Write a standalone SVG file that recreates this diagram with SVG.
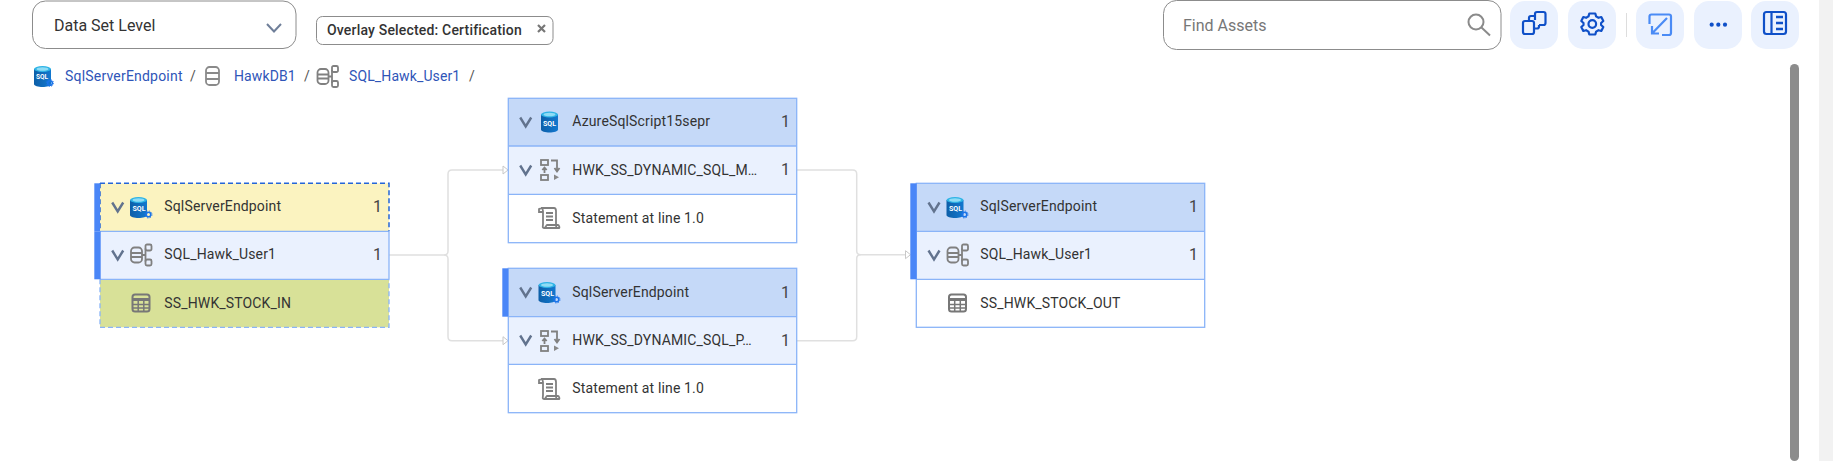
<svg xmlns="http://www.w3.org/2000/svg" xmlns:xlink="http://www.w3.org/1999/xlink" width="1833" height="461" viewBox="0 0 1833 461">
<style>
text{font-family:Roboto,"Liberation Sans",sans-serif;fill:#333}
.t{font-size:14px;letter-spacing:.15px}
.c{font-size:16px;fill:#444}
.l{font-size:14px;fill:#2f55b8;letter-spacing:.12px}
.s{font-size:14px;fill:#555}
.hd{fill:#c5d9f8}.sub{fill:#eaf1fe}.wh{fill:#fff}
.bd{fill:none;stroke:#8ab4f8;stroke-width:1.3}
.bar{fill:#4a86f7}
.con{fill:none;stroke:#e0e0e0;stroke-width:1.5}
.arr{fill:#fff;stroke:#c8c8c8;stroke-width:1}
.chev{fill:none;stroke:#62738e;stroke-width:2.4}
.ic{fill:none;stroke:#808080;stroke-width:1.8}
.btn{fill:#eaf1fe}
.bi{fill:none;stroke:#0f50c8;stroke-width:2.2;stroke-linejoin:round}
.sq{font-size:7px;font-weight:700;fill:#fff;letter-spacing:0}
</style>
<defs>
<path id="chevron" class="chev" d="M-5.500 -4.500 L0 4.500 L5.500 -4.500"/>
<linearGradient id="cyl" x1="0" x2="1" y1="0" y2="0"><stop offset="0" stop-color="#0d5fa8"/><stop offset="1" stop-color="#1278cf"/></linearGradient>
<g id="cylinder">
<path d="M0 3 V18 C0 22 17 22 17 18 V3 Z" fill="url(#cyl)"/>
<ellipse cx="8.500" cy="3" rx="8.500" ry="3" fill="#2fb4e6"/>
<ellipse cx="8.500" cy="3" rx="6" ry="1.700" fill="#8fdcf5"/>
</g>
<g id="gear"><circle r="2.300" fill="none" stroke="#1a73e8" stroke-width="1.600"/><circle r="3.500" fill="none" stroke="#1a73e8" stroke-width=".9" stroke-dasharray="1.300 1.450"/></g>
<g id="schema" class="ic">
<rect x="0.500" y="4" width="11" height="15" rx="3.500"/>
<path d="M0.500 9.500 H11.500 M0.500 13.500 H11.500"/>
<path d="M11.500 11.500 H15 M15 5 V18"/>
<rect x="15" y="1" width="6" height="6" rx="1.500"/>
<rect x="15" y="16" width="6" height="6" rx="1.500"/>
</g>
<g id="table">
<rect x="1" y="1" width="17" height="17" rx="2.500" fill="none" stroke="#777" stroke-width="2"/>
<path d="M1 6 H18" stroke="#777" stroke-width="3"/>
<path d="M1 11 H18 M1 14.500 H18 M6.700 6 V18 M12.300 6 V18" stroke="#777" stroke-width="1.500"/>
</g>
<g id="flow">
<rect x="1" y="1" width="7" height="5" class="ic"/>
<rect x="1" y="16" width="7" height="5" class="ic"/>
<path d="M4.500 14 V9 M2.300 11 L4.500 8.500 L6.700 11" class="ic" stroke-width="1.500"/>
<path d="M11 1.500 H17 V11 M14.500 9 L17 12.500 L19.500 9" class="ic"/>
<path d="M14 15.500 V21 L19 18.200 Z" fill="#888"/>
</g>
<g id="scroll" class="ic">
<path d="M3 1 H16 C18 1 18 3 18 4 V18 C18 21 19 21 21 21 H6 C4 21 5 19 5 17 V4 C5 1 3 1 1 2 V5 H5"/>
<path d="M21 21 C22 21 21 18 20 18 H9 C8 18 8 21 6 21"/>
<path d="M8 6 H15 M8 9.500 H15 M8 13 H15"/>
</g>
</defs>
<rect width="1833" height="461" fill="#fff"/>
<rect x="1819" y="0" width="14" height="461" fill="#f2f2f2"/>
<rect x="1790" y="64" width="9" height="397" rx="4.500" fill="#8c8c8c"/>

<g id="toolbar">
<rect x="32.500" y="1" width="263.500" height="47.500" rx="13" fill="#fff" stroke="#8c8c8c" stroke-width="1"/>
<text x="54" y="31" style="font-size:16px" fill="#333">Data Set Level</text>
<path d="M267 24 L274 31.500 L281 24" fill="none" stroke="#6f7f99" stroke-width="2"/>
<rect x="316.500" y="16.500" width="236.500" height="28" rx="6" fill="#fff" stroke="#8c8c8c" stroke-width="1"/>
<text x="327" y="34.500" style="font-size:14px;font-weight:500;letter-spacing:.18px">Overlay Selected: Certification</text>
<path d="M538 25 L545 32 M545 25 L538 32" stroke="#777" stroke-width="2.200"/>
<rect x="1163.500" y="0.500" width="337.500" height="49" rx="13" fill="#fff" stroke="#8c8c8c" stroke-width="1"/>
<text x="1183" y="30.500" style="font-size:16px;fill:#777">Find Assets</text>
<circle cx="1476" cy="22" r="7.500" fill="none" stroke="#8a8a8a" stroke-width="2"/>
<path d="M1481.500 27.500 L1490 35.500" stroke="#8a8a8a" stroke-width="2"/>
<rect class="btn" x="1510" y="1" width="48" height="48" rx="15"/>
<rect class="btn" x="1568" y="1" width="48" height="48" rx="15"/>
<rect class="btn" x="1636" y="1" width="48" height="48" rx="15"/>
<rect class="btn" x="1694" y="1" width="48" height="48" rx="15"/>
<rect class="btn" x="1751" y="1" width="48" height="48" rx="15"/>
<path d="M1626.500 13 V37" stroke="#ddd" stroke-width="1"/>
<g class="bi">
<rect x="1523" y="21" width="11" height="13" rx="2"/>
<path d="M1529 20.500 V18 Q1529 16 1531 16 H1535"/>
<path d="M1534 28.500 H1537 Q1539 28.500 1539 26.500 V25"/>
<path d="M1535 20 V14 Q1535 12 1537 12 H1543.500 Q1545.500 12 1545.500 14 V23 Q1545.500 25 1543.500 25 H1539"/>
</g>
<g class="bi" transform="translate(1592.300 24)">
<circle r="3.800"/>
<path d="M-3 -10.500 H3 L3.800 -7.600 L6.200 -6.200 L9 -7 L11 -3 L8.800 -1 V1 L11 3 L9 7 L6.200 6.200 L3.800 7.600 L3 10.500 H-3 L-3.800 7.600 L-6.200 6.200 L-9 7 L-11 3 L-8.800 1 V-1 L-11 -3 L-9 -7 L-6.200 -6.200 L-3.800 -7.600 Z"/>
</g>
<g fill="none" stroke="#4a8bf5" stroke-width="2.200">
<path d="M1649.500 24 V16.500 Q1649.500 14.500 1651.500 14.500 H1669 Q1671 14.500 1671 16.500 V33 Q1671 35 1669 35 H1662"/>
<path d="M1667 18 L1652 33.500 M1652 26 V33.500 H1659"/>
</g>
<circle cx="1711.700" cy="24.700" r="2.100" fill="#0f50c8"/>
<circle cx="1718.300" cy="24.700" r="2.100" fill="#0f50c8"/>
<circle cx="1725" cy="24.700" r="2.100" fill="#0f50c8"/>
<g class="bi">
<rect x="1764" y="12" width="22" height="22" rx="2.500"/>
<path d="M1771.500 12 V34"/>
<path d="M1776 17 H1783 M1776 23 H1783 M1776 29 H1783" stroke-width="2.600"/>
</g>
</g>

<g id="breadcrumb">
<use href="#cylinder" x="34" y="66"/>
<text class="sq" x="36" y="79" style="font-size:6.500px">SQL</text>
<use href="#gear" x="50" y="83"/>
<text class="l" x="65" y="81" style="letter-spacing:.2px">SqlServerEndpoint</text>
<text class="s" x="190" y="81">/</text>
<g fill="none" stroke="#8a8a8a" stroke-width="1.800">
<rect x="206" y="67" width="13" height="18" rx="3.500"/>
<path d="M206 73 H219 M206 79 H219"/>
</g>
<text class="l" x="234" y="81">HawkDB1</text>
<text class="s" x="304" y="81">/</text>
<use href="#schema" x="317" y="65"/>
<text class="l" x="349" y="81">SQL_Hawk_User1</text>
<text class="s" x="469" y="81">/</text>
</g>

<g id="connectors">
<path class="con" d="M389 255 H444 Q448 255 448 251 V174 Q448 170 452 170 H503"/>
<path class="con" d="M444 255 Q448 255 448 259 V336.700 Q448 340.700 452 340.700 H503"/>
<path class="con" d="M797 170 H852.700 Q856.700 170 856.700 174 V250.700 Q856.700 254.700 860.700 254.700 H905"/>
<path class="con" d="M797 340.700 H852.700 Q856.700 340.700 856.700 336.700 V258.700 Q856.700 254.700 860.700 254.700"/>
<path class="arr" d="M503 166 L508 170 L503 174 Z"/>
<path class="arr" d="M503 336.700 L508 340.700 L503 344.700 Z"/>
<path class="arr" d="M905.500 250.700 L910.500 254.700 L905.500 258.700 Z"/>
</g>

<g id="node-source">
<rect x="100" y="183.300" width="289" height="48" fill="#fbf3c0"/>
<rect class="sub" x="100" y="231.300" width="289" height="48"/>
<rect x="100" y="279.300" width="289" height="48" fill="#d8e198"/>
<path d="M100 231.300 H389 M100 279.300 H389" class="bd"/>
<path d="M100 279.300 V327.300 H389 V279.300" fill="none" stroke="#8ab4f8" stroke-width="1.300" stroke-dasharray="5 3"/>
<path d="M100 183.300 H389 V231.300 M100 183.300 V231.300" fill="none" stroke="#2465d8" stroke-width="1.500" stroke-dasharray="5 3"/>
<path d="M389 231.300 V279.300" class="bd"/>
<rect class="bar" x="94.300" y="183.300" width="5.700" height="48"/>
<rect class="bar" x="94.300" y="231.300" width="6.400" height="48"/>
<use href="#chevron" x="117.700" y="207"/>
<use href="#cylinder" x="130" y="197"/>
<text class="sq" x="132.500" y="210.500">SQL</text>
<use href="#gear" x="148.500" y="214.500"/>
<text class="t" x="164.300" y="211">SqlServerEndpoint</text>
<text class="c" x="373" y="212">1</text>
<use href="#chevron" x="117.700" y="255"/>
<use href="#schema" x="130.500" y="243.500"/>
<text class="t" x="164.300" y="259">SQL_Hawk_User1</text>
<text class="c" x="373" y="260">1</text>
<use href="#table" x="131.500" y="293.500"/>
<text class="t" x="164.300" y="308">SS_HWK_STOCK_IN</text>
</g>

<g id="node-azure-script">
<rect class="hd" x="508.300" y="98.300" width="288.400" height="47.700"/>
<rect class="sub" x="508.300" y="146" width="288.400" height="48.300"/>
<rect class="wh" x="508.300" y="194.300" width="288.400" height="48.400"/>
<rect class="bd" x="508.300" y="98.300" width="288.400" height="144.400"/>
<path class="bd" d="M508.300 146 H796.700 M508.300 194.300 H796.700"/>
<use href="#chevron" x="525.700" y="122"/>
<use href="#cylinder" x="541" y="111.500"/>
<text class="sq" x="543" y="125.500">SQL</text>
<text class="t" x="572.300" y="126">AzureSqlScript15sepr</text>
<text class="c" x="781" y="127">1</text>
<use href="#chevron" x="525.700" y="170"/>
<use href="#flow" x="540" y="159"/>
<text class="t" x="572.300" y="175">HWK_SS_DYNAMIC_SQL_M…</text>
<text class="c" x="781" y="175">1</text>
<use href="#scroll" x="538" y="207"/>
<text class="t" x="572.300" y="223">Statement at line 1.0</text>
</g>

<g id="node-endpoint-mid">
<rect class="hd" x="508.300" y="268.300" width="288.400" height="48.400"/>
<rect class="sub" x="508.300" y="316.700" width="288.400" height="47.600"/>
<rect class="wh" x="508.300" y="364.300" width="288.400" height="48.400"/>
<rect class="bd" x="508.300" y="268.300" width="288.400" height="144.400"/>
<path class="bd" d="M508.300 316.700 H796.700 M508.300 364.300 H796.700"/>
<rect class="bar" x="502.300" y="268.300" width="6" height="48.400"/>
<use href="#chevron" x="525.700" y="292"/>
<use href="#cylinder" x="538.500" y="282"/>
<text class="sq" x="541" y="296">SQL</text>
<use href="#gear" x="556.500" y="299.500"/>
<text class="t" x="572.300" y="297">SqlServerEndpoint</text>
<text class="c" x="781" y="298">1</text>
<use href="#chevron" x="525.700" y="340"/>
<use href="#flow" x="540" y="330"/>
<text class="t" x="572.300" y="345">HWK_SS_DYNAMIC_SQL_P…</text>
<text class="c" x="781" y="346">1</text>
<use href="#scroll" x="538" y="378"/>
<text class="t" x="572.300" y="393">Statement at line 1.0</text>
</g>

<g id="node-target">
<rect class="hd" x="916.300" y="183.300" width="288.400" height="48"/>
<rect class="sub" x="916.300" y="231.300" width="288.400" height="48"/>
<rect class="wh" x="916.300" y="279.300" width="288.400" height="48"/>
<rect class="bd" x="916.300" y="183.300" width="288.400" height="144"/>
<path class="bd" d="M916.300 231.300 H1204.700 M916.300 279.300 H1204.700"/>
<rect class="bar" x="910.300" y="183.300" width="6.400" height="96"/>
<use href="#chevron" x="934" y="207"/>
<use href="#cylinder" x="946.500" y="197"/>
<text class="sq" x="949" y="210.500">SQL</text>
<use href="#gear" x="964.500" y="214.500"/>
<text class="t" x="980.300" y="211">SqlServerEndpoint</text>
<text class="c" x="1189" y="212">1</text>
<use href="#chevron" x="934" y="255"/>
<use href="#schema" x="947" y="243.500"/>
<text class="t" x="980.300" y="259">SQL_Hawk_User1</text>
<text class="c" x="1189" y="260">1</text>
<use href="#table" x="948" y="293.500"/>
<text class="t" x="980.300" y="308">SS_HWK_STOCK_OUT</text>
</g>
</svg>
